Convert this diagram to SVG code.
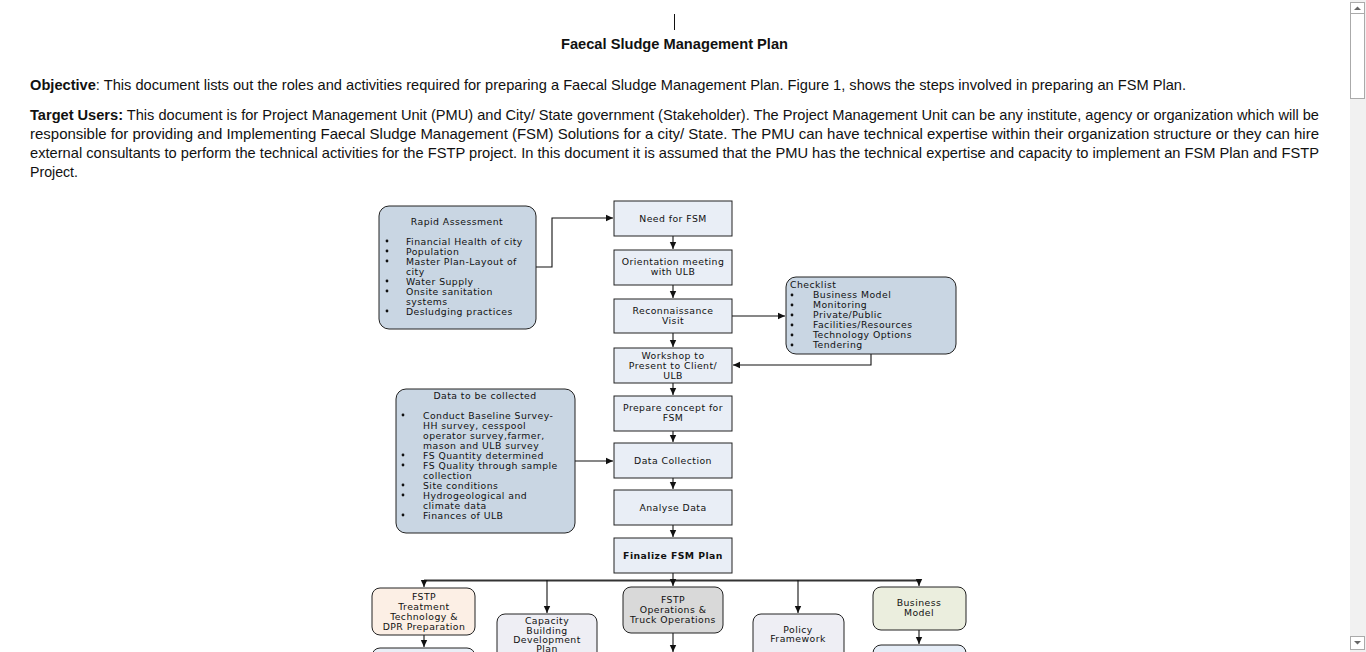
<svg xmlns="http://www.w3.org/2000/svg" width="1366" height="652" viewBox="0 0 1366 652">
<defs>
<marker id="ah" markerWidth="8" markerHeight="8" refX="7" refY="4" orient="auto" markerUnits="userSpaceOnUse">
<path d="M0,0.8 L7,4 L0,7.2 Z" fill="#111"/>
</marker>
<style>
.doc{font-family:"Liberation Sans",Arial,sans-serif;font-size:14.5px;fill:#111}
.b{font-weight:bold}
.d{font-family:"DejaVu Sans","Liberation Sans",sans-serif;font-size:9.3px;letter-spacing:0.45px;fill:#111}
.c{text-anchor:middle}
.box{fill:#e9eef6;stroke:#222;stroke-width:1}
.note{fill:#c9d6e3;stroke:#222;stroke-width:1}
.rb{stroke:#222;stroke-width:1}
.con{fill:none;stroke:#111;stroke-width:1.1}
.bul{fill:#111}
</style>
</defs>
<rect width="1366" height="652" fill="#fff"/>

<!-- document text -->
<g id="doc">
<line x1="674.5" y1="14" x2="674.5" y2="30" stroke="#111" stroke-width="1"/>
<text class="doc b c" x="674.5" y="49" textLength="227" lengthAdjust="spacingAndGlyphs">Faecal Sludge Management Plan</text>
<text class="doc" x="30" y="90" textLength="1156" lengthAdjust="spacingAndGlyphs"><tspan class="b">Objective</tspan>: This document lists out the roles and activities required for preparing a Faecal Sludge Management Plan. Figure 1, shows the steps involved in preparing an FSM Plan.</text>
<text class="doc" x="30" y="120" textLength="1289" lengthAdjust="spacingAndGlyphs"><tspan class="b">Target Users:</tspan> This document is for Project Management Unit (PMU) and City/ State government (Stakeholder). The Project Management Unit can be any institute, agency or organization which will be</text>
<text class="doc" x="30" y="139" textLength="1289" lengthAdjust="spacingAndGlyphs">responsible for providing and Implementing Faecal Sludge Management (FSM) Solutions for a city/ State. The PMU can have technical expertise within their organization structure or they can hire</text>
<text class="doc" x="30" y="158" textLength="1289" lengthAdjust="spacingAndGlyphs">external consultants to perform the technical activities for the FSTP project. In this document it is assumed that the PMU has the technical expertise and capacity to implement an FSM Plan and FSTP</text>
<text class="doc" x="30" y="177" textLength="48" lengthAdjust="spacingAndGlyphs">Project.</text>
</g>

<!-- scrollbar -->
<g id="scrollbar">
<rect x="1350" y="0" width="16" height="652" fill="#f1f1f1"/>
<rect x="1350.5" y="2.5" width="14" height="11" fill="#fff" stroke="#aaa"/>
<path d="M1354,10 L1357.5,6.5 L1361,10 Z" fill="#666"/>
<rect x="1350.5" y="13.5" width="14" height="85" fill="#fff" stroke="#aaa"/>
<rect x="1350.5" y="636.5" width="14" height="13" fill="#fff" stroke="#aaa"/>
<path d="M1354,641 L1357.5,644.5 L1361,641 Z" fill="#666"/>
</g>

<!-- connectors -->
<g id="connectors">
<polyline class="con" points="536,267 552,267 552,218 613,218" marker-end="url(#ah)"/>
<line class="con" x1="673" y1="236" x2="673" y2="249" marker-end="url(#ah)"/>
<line class="con" x1="673" y1="285" x2="673" y2="298" marker-end="url(#ah)"/>
<line class="con" x1="673" y1="333" x2="673" y2="347" marker-end="url(#ah)"/>
<line class="con" x1="732" y1="316" x2="785" y2="316" marker-end="url(#ah)"/>
<polyline class="con" points="871,354 871,365 733,365" marker-end="url(#ah)"/>
<line class="con" x1="673" y1="383" x2="673" y2="395" marker-end="url(#ah)"/>
<line class="con" x1="673" y1="431" x2="673" y2="442" marker-end="url(#ah)"/>
<line class="con" x1="575" y1="461" x2="613" y2="461" marker-end="url(#ah)"/>
<line class="con" x1="673" y1="478" x2="673" y2="489" marker-end="url(#ah)"/>
<line class="con" x1="673" y1="525" x2="673" y2="537" marker-end="url(#ah)"/>
<line class="con" x1="673" y1="573" x2="673" y2="580"/>
<line x1="424" y1="580.5" x2="919" y2="580.5" stroke="#333" stroke-width="1.8"/>
<line class="con" x1="424" y1="580" x2="424" y2="587" marker-end="url(#ah)"/>
<line class="con" x1="547" y1="580" x2="547" y2="613" marker-end="url(#ah)"/>
<line class="con" x1="673" y1="580" x2="673" y2="586" marker-end="url(#ah)"/>
<line class="con" x1="798" y1="580" x2="798" y2="613" marker-end="url(#ah)"/>
<line class="con" x1="919" y1="580" x2="919" y2="586" marker-end="url(#ah)"/>
<line class="con" x1="424" y1="635" x2="424" y2="647" marker-end="url(#ah)"/>
<line class="con" x1="673" y1="633" x2="673" y2="652" marker-end="url(#ah)"/>
<line class="con" x1="919" y1="630" x2="919" y2="644" marker-end="url(#ah)"/>
</g>

<!-- Rapid Assessment -->
<g id="rapid-assessment">
<rect class="note" x="379" y="206" width="157" height="123" rx="10"/>
<text class="d c" x="457" y="225">Rapid Assessment</text>
<g class="bul"><circle cx="387" cy="241" r="1.4"/><circle cx="387" cy="251" r="1.4"/><circle cx="387" cy="261" r="1.4"/><circle cx="387" cy="281" r="1.4"/><circle cx="387" cy="291" r="1.4"/><circle cx="387" cy="311" r="1.4"/></g>
<text class="d" x="406" y="244.5">Financial Health of city</text>
<text class="d" x="406" y="254.5">Population</text>
<text class="d" x="406" y="264.5">Master Plan-Layout of</text>
<text class="d" x="406" y="274.5">city</text>
<text class="d" x="406" y="284.5">Water Supply</text>
<text class="d" x="406" y="294.5">Onsite sanitation</text>
<text class="d" x="406" y="304.5">systems</text>
<text class="d" x="406" y="314.5">Desludging practices</text>
</g>

<!-- centre column -->
<g id="need-for-fsm"><rect class="box" x="614" y="201" width="118" height="35"/><text class="d c" x="673" y="221.5">Need for FSM</text></g>
<g id="orientation"><rect class="box" x="614" y="250" width="118" height="35"/><text class="d c" x="673" y="264.5">Orientation meeting</text><text class="d c" x="673" y="274.5">with ULB</text></g>
<g id="reconnaissance"><rect class="box" x="614" y="299" width="118" height="34"/><text class="d c" x="673" y="313.5">Reconnaissance</text><text class="d c" x="673" y="323.5">Visit</text></g>
<g id="workshop"><rect class="box" x="614" y="348" width="118" height="35"/><text class="d c" x="673" y="358.5">Workshop to</text><text class="d c" x="673" y="368.5">Present to Client/</text><text class="d c" x="673" y="378.5">ULB</text></g>
<g id="prepare-concept"><rect class="box" x="614" y="396" width="118" height="35"/><text class="d c" x="673" y="410.5">Prepare concept for</text><text class="d c" x="673" y="420.5">FSM</text></g>
<g id="data-collection"><rect class="box" x="614" y="443" width="118" height="35"/><text class="d c" x="673" y="463.5">Data Collection</text></g>
<g id="analyse-data"><rect class="box" x="614" y="490" width="118" height="35"/><text class="d c" x="673" y="510.5">Analyse Data</text></g>
<g id="finalize"><rect class="box" x="614" y="538" width="118" height="35"/><text class="d c b" x="673" y="558.5">Finalize FSM Plan</text></g>

<!-- Checklist -->
<g id="checklist">
<rect class="note" x="786" y="277" width="170" height="77" rx="10"/>
<text class="d" x="790" y="288">Checklist</text>
<g class="bul"><circle cx="792" cy="295" r="1.4"/><circle cx="792" cy="305" r="1.4"/><circle cx="792" cy="315" r="1.4"/><circle cx="792" cy="325" r="1.4"/><circle cx="792" cy="335" r="1.4"/><circle cx="792" cy="345" r="1.4"/></g>
<text class="d" x="813" y="298">Business Model</text>
<text class="d" x="813" y="308">Monitoring</text>
<text class="d" x="813" y="318">Private/Public</text>
<text class="d" x="813" y="328">Facilities/Resources</text>
<text class="d" x="813" y="338">Technology Options</text>
<text class="d" x="813" y="348">Tendering</text>
</g>

<!-- Data to be collected -->
<g id="data-to-collect">
<rect class="note" x="396" y="389" width="179" height="144" rx="10"/>
<text class="d c" x="485" y="399">Data to be collected</text>
<g class="bul"><circle cx="403" cy="415" r="1.4"/><circle cx="403" cy="455" r="1.4"/><circle cx="403" cy="465" r="1.4"/><circle cx="403" cy="485" r="1.4"/><circle cx="403" cy="495" r="1.4"/><circle cx="403" cy="515" r="1.4"/></g>
<text class="d" x="423" y="418.5">Conduct Baseline Survey-</text>
<text class="d" x="423" y="428.5">HH survey, cesspool</text>
<text class="d" x="423" y="438.5">operator survey,farmer,</text>
<text class="d" x="423" y="448.5">mason and ULB survey</text>
<text class="d" x="423" y="458.5">FS Quantity determined</text>
<text class="d" x="423" y="468.5">FS Quality through sample</text>
<text class="d" x="423" y="478.5">collection</text>
<text class="d" x="423" y="488.5">Site conditions</text>
<text class="d" x="423" y="498.5">Hydrogeological and</text>
<text class="d" x="423" y="508.5">climate data</text>
<text class="d" x="423" y="518.5">Finances of ULB</text>
</g>

<!-- bottom row -->
<g id="fstp-treatment"><rect class="rb" x="372" y="588" width="103" height="47" rx="8" fill="#fcefe5"/><text class="d c" x="424" y="599.5">FSTP</text><text class="d c" x="424" y="609.5">Treatment</text><text class="d c" x="424" y="619.5">Technology &amp;</text><text class="d c" x="424" y="629.5">DPR Preparation</text></g>
<g id="fstp-treatment-next"><rect class="rb" x="372" y="648" width="103" height="30" rx="8" fill="#e9eef6"/></g>
<g id="capacity-building"><rect class="rb" x="497" y="614" width="100" height="48" rx="8" fill="#eeeef4"/><text class="d c" x="547" y="624">Capacity</text><text class="d c" x="547" y="633.5">Building</text><text class="d c" x="547" y="643">Development</text><text class="d c" x="547" y="651.5">Plan</text></g>
<g id="fstp-operations"><rect class="rb" x="623" y="587" width="100" height="46" rx="8" fill="#d9d9d9"/><text class="d c" x="673" y="602.5">FSTP</text><text class="d c" x="673" y="612.5">Operations &amp;</text><text class="d c" x="673" y="622.5">Truck Operations</text></g>
<g id="policy-framework"><rect class="rb" x="753" y="614" width="91" height="48" rx="8" fill="#eeeef4"/><text class="d c" x="798" y="632.5">Policy</text><text class="d c" x="798" y="641.5">Framework</text></g>
<g id="business-model"><rect class="rb" x="873" y="587" width="93" height="43" rx="8" fill="#ebeede"/><text class="d c" x="919" y="606">Business</text><text class="d c" x="919" y="615.5">Model</text></g>
<g id="business-model-next"><rect class="rb" x="873" y="645" width="93" height="30" rx="8" fill="#e6edf7"/></g>
</svg>
